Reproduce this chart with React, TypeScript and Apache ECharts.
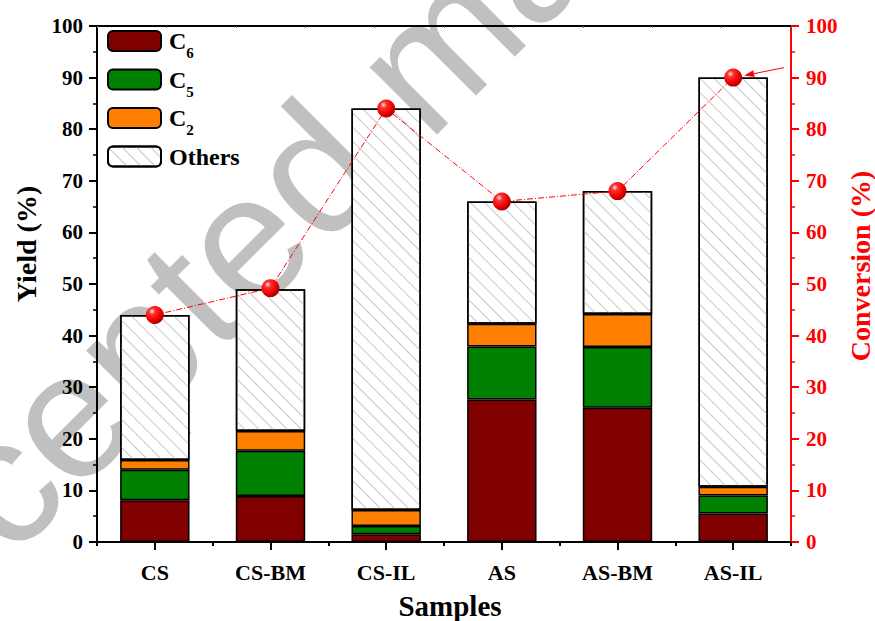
import React, { useEffect, useRef } from "react";
import * as echarts from "echarts";

const categories = ["CS", "CS-BM", "CS-IL", "AS", "AS-BM", "AS-IL"];
const c6 = [8.1, 8.9, 1.5, 27.6, 26.0, 5.5];
const c5 = [5.9, 8.8, 1.6, 10.3, 11.8, 3.5];
const c2 = [1.9, 3.8, 3.1, 4.4, 6.4, 1.7];
const totals = [44, 49, 84, 66, 68, 90];
const others = totals.map((t, i) => +(t - c6[i] - c5[i] - c2[i]).toFixed(2));
const conversion = [44, 49.2, 84, 66, 68, 90];
const yTicks = [0, 100, 10];

const FONT = "'Liberation Serif', 'Times New Roman', serif";

export default function App() {
  const ref = useRef<HTMLDivElement>(null);
  useEffect(() => {
    if (!ref.current) return;
    const chart = echarts.init(ref.current, undefined, { renderer: "svg" });
    const border = { borderColor: "#000", borderWidth: 1.5 };
    const barBase = {
      type: "bar",
      stack: "y",
      barWidth: "60%",
      xAxisIndex: 0,
      yAxisIndex: 0,
      z: 3,
    };
    const sphere = {
      type: "radial",
      x: 0.35,
      y: 0.3,
      r: 0.7,
      colorStops: [
        { offset: 0, color: "#ffe6e6" },
        { offset: 0.25, color: "#ff3030" },
        { offset: 0.7, color: "#f00000" },
        { offset: 1, color: "#b00000" },
      ],
    };
    const watermark = {
      type: "text",
      z: -10,
      x: -182,
      y: 665,
      rotation: Math.PI / 4,
      silent: true,
      style: {
        text: "Accepted manuscript",
        fontFamily: "'Liberation Sans', Arial, sans-serif",
        fontSize: 180,
        fill: "#c0c0c0",
        textAlign: "left",
        textVerticalAlign: "middle",
      },
    };
    const option: any = {
      animation: false,
      backgroundColor: "#fff",
      grid: {
        left: 97,
        right: 84,
        top: 26,
        bottom: 79,
        containLabel: false,
        outerBoundsMode: "none",
      },
      legend: {
        orient: "vertical",
        left: 107,
        top: 22,
        padding: 0,
        itemWidth: 53,
        itemHeight: 20,
        itemGap: 0,
        data: ["C6", "C5", "C2", "Others"],
        formatter: (n: string) => (n === "Others" ? "{b|Others}{s| }" : `{b|C}{s|${n.slice(1)}}`),
        textStyle: {
          padding: [0, 0, 0, 3],
          rich: {
            b: {
              fontFamily: FONT,
              fontWeight: "bold",
              fontSize: 24,
              color: "#000",
              lineHeight: 38,
              height: 38,
              verticalAlign: "middle",
            },
            s: {
              fontFamily: FONT,
              fontWeight: "bold",
              fontSize: 15,
              color: "#000",
              verticalAlign: "bottom",
              padding: [24, 0, 0, 0],
              lineHeight: 14,
              height: 14,
            },
          },
        },
      },
      xAxis: [
        {
          type: "category",
          data: categories,
          position: "bottom",
          axisLine: { lineStyle: { color: "#000", width: 2 } },
          axisTick: { show: true, length: 4, lineStyle: { width: 2, color: "#000" } },
          axisLabel: { show: false },
          name: "Samples",
          nameLocation: "middle",
          nameGap: 49,
          nameTextStyle: {
            fontFamily: FONT,
            fontWeight: "bold",
            fontSize: 29,
            color: "#000",
            padding: [0, 0, 0, 12],
          },
        },
        {
          type: "category",
          data: categories,
          position: "bottom",
          axisLine: { show: false },
          axisTick: { show: true, alignWithLabel: true, length: 8, lineStyle: { width: 2, color: "#000" } },
          axisLabel: { fontFamily: FONT, fontWeight: "bold", fontSize: 22, color: "#000", margin: 19 },
        },
        {
          type: "value",
          position: "top",
          min: 0,
          max: 10,
          interval: 1,
          axisLine: { show: true, lineStyle: { color: "#000", width: 2 } },
          axisTick: { show: true, inside: true, length: 2, lineStyle: { color: "#666", width: 1 } },
          axisLabel: { show: false },
          splitLine: { show: false },
        },
      ],
      yAxis: [
        {
          type: "value",
          min: yTicks[0],
          max: yTicks[1],
          interval: yTicks[2],
          position: "left",
          axisLine: { show: true, lineStyle: { color: "#000", width: 2 } },
          axisTick: { show: true, length: 8, lineStyle: { width: 2, color: "#000" } },
          minorTick: { show: true, splitNumber: 2, length: 4, lineStyle: { width: 1.5, color: "#000" } },
          splitLine: { show: false },
          axisLabel: { fontFamily: FONT, fontWeight: "bold", fontSize: 21, color: "#000", margin: 14 },
          name: "Yield (%)",
          nameLocation: "middle",
          nameRotate: 90,
          nameGap: 54,
          nameTextStyle: {
            fontFamily: FONT,
            fontWeight: "bold",
            fontSize: 28,
            color: "#000",
            padding: [0, 0, 0, 80],
          },
        },
        {
          type: "value",
          min: yTicks[0],
          max: yTicks[1],
          interval: yTicks[2],
          position: "right",
          axisLine: { show: true, lineStyle: { color: "#f00", width: 2 } },
          axisTick: { show: true, length: 8, lineStyle: { width: 2, color: "#f00" } },
          minorTick: { show: true, splitNumber: 2, length: 4, lineStyle: { width: 1.5, color: "#f00" } },
          splitLine: { show: false },
          axisLabel: { fontFamily: FONT, fontWeight: "bold", fontSize: 21, color: "#f00", margin: 15 },
          name: "Conversion (%)",
          nameLocation: "middle",
          nameRotate: 90,
          nameGap: 55,
          nameMoveOverlap: false,
          nameTextStyle: {
            fontFamily: FONT,
            fontWeight: "bold",
            fontSize: 28,
            color: "#f00",
            padding: [0, 0, 0, 36],
          },
        },
      ],
      series: [
        { ...barBase, name: "C6", data: c6, itemStyle: { color: "#800000", ...border } },
        { ...barBase, name: "C5", data: c5, itemStyle: { color: "#008000", ...border } },
        { ...barBase, name: "C2", data: c2, itemStyle: { color: "#ff8000", ...border } },
        {
          ...barBase,
          name: "Others",
          data: others,
          itemStyle: {
            color: "#fff",
            ...border,
            decal: {
              symbol: "rect",
              symbolSize: 1,
              dashArrayX: [1, 0],
              dashArrayY: [1, 9],
              rotation: Math.PI / 4,
              color: "#c8c8c8",
              backgroundColor: "#fff",
            },
          },
        },
        {
          type: "line",
          name: "Conversion",
          data: conversion,
          xAxisIndex: 1,
          yAxisIndex: 1,
          z: 6,
          symbol: "circle",
          symbolSize: 18,
          itemStyle: { color: sphere },
          lineStyle: { color: "#f00", width: 1, type: [6, 2, 1, 2] },
        },
      ],
      graphic: [watermark],
    };
    chart.setOption(option);
    const p = chart.convertToPixel({ xAxisIndex: 1, yAxisIndex: 1 } as any, [categories[5], conversion[5]]) as number[];
    if (p) {
      const sx = p[0] + 51, sy = p[1] - 10;
      const ex = p[0] + 11, ey = p[1] - 2;
      const ang = Math.atan2(ey - sy, ex - sx);
      const L = 10, W = 3.5;
      const bx = ex - L * Math.cos(ang), by = ey - L * Math.sin(ang);
      chart.setOption({
        graphic: [
          watermark,
          {
            type: "line",
            z: 10,
            shape: { x1: sx, y1: sy, x2: bx, y2: by },
            style: { stroke: "#f00", lineWidth: 1 },
          },
          {
            type: "polygon",
            z: 10,
            shape: {
              points: [
                [ex, ey],
                [bx + W * Math.sin(ang), by - W * Math.cos(ang)],
                [bx - W * Math.sin(ang), by + W * Math.cos(ang)],
              ],
            },
            style: { fill: "#f00" },
          },
        ],
      });
    }
    return () => chart.dispose();
  }, []);
  return <div ref={ref} style={{ width: 875, height: 621, position: "absolute", left: 0, top: 0 }} />;
}
